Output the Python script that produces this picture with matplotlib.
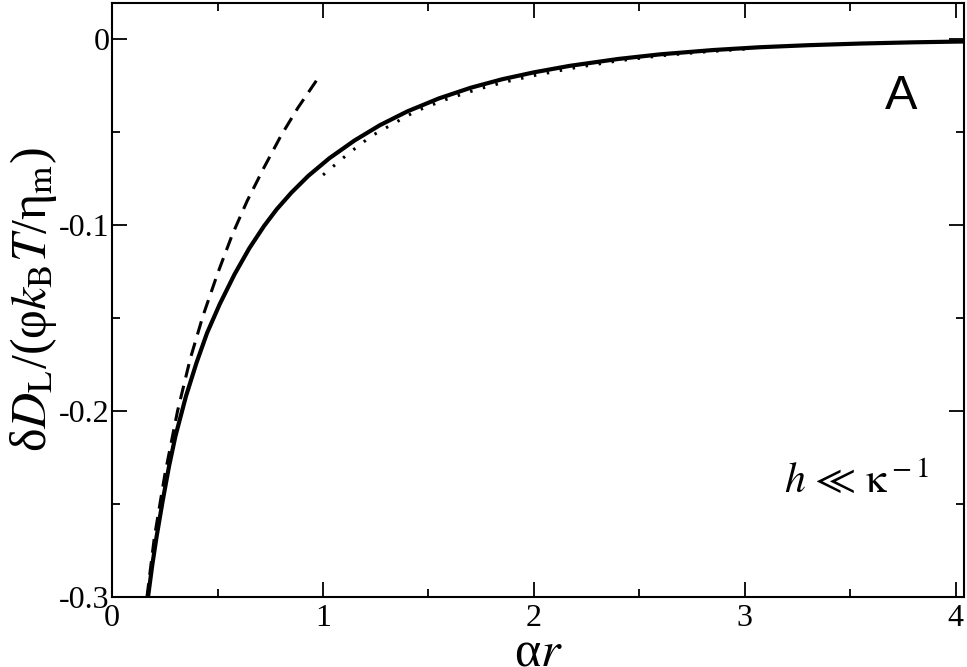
import matplotlib
matplotlib.use('Agg')
import matplotlib.pyplot as plt
from matplotlib.ticker import MultipleLocator

# full result (solid)
solid_x = [0.17, 0.19, 0.21, 0.24, 0.27, 0.30, 0.35, 0.40, 0.45, 0.51, 0.58, 0.65, 0.72,
           0.78, 0.85, 0.93, 1.03, 1.15, 1.27, 1.40, 1.55, 1.70, 1.85, 2.00, 2.17, 2.40,
           2.60, 2.85, 3.07, 3.30, 3.55, 3.80, 4.04]
solid_y = [-0.300, -0.283, -0.268, -0.248, -0.2295, -0.2135, -0.192, -0.174, -0.158,
           -0.1425, -0.1265, -0.1125, -0.1005, -0.0915, -0.0825, -0.0735, -0.0640,
           -0.0544, -0.0462, -0.0388, -0.0318, -0.0261, -0.0215, -0.0178, -0.0143,
           -0.0106, -0.0081, -0.0058, -0.0043, -0.0032, -0.0023, -0.00165, -0.0012]

# small alpha*r asymptote (dashed)
dash_x = [0.165, 0.20, 0.25, 0.31, 0.37, 0.43, 0.50, 0.57, 0.64, 0.72, 0.80, 0.88, 0.97]
dash_y = [-0.300, -0.268, -0.234, -0.200, -0.172, -0.149, -0.126, -0.105, -0.087,
          -0.069, -0.052, -0.037, -0.022]

# large alpha*r asymptote (dotted)
dot_x = [1.00, 1.12, 1.23, 1.34, 1.44, 1.58, 1.73, 1.87, 2.01, 2.20, 2.40, 2.60, 2.80, 3.00]
dot_y = [-0.0730, -0.0615, -0.0520, -0.0450, -0.0387, -0.0325, -0.0270, -0.0228, -0.0193,
         -0.0152, -0.0116, -0.0089, -0.0069, -0.0053]

plt.rcParams['mathtext.fontset'] = 'stix'
plt.rcParams['font.family'] = ['Liberation Serif', 'DejaVu Serif']

fig = plt.figure(figsize=(9.67, 6.67), dpi=100)
ax = fig.add_axes([0.116, 0.105, 0.881, 0.8905])

ax.plot(solid_x, solid_y, color='k', lw=3.0)
ax.plot(dash_x, dash_y, color='k', lw=2.2, dashes=(4.5, 2.8))
ax.plot(dot_x, dot_y, color='k', lw=2.2, linestyle=(0, (0.8, 3.5)))

ax.set_xlim(0, 4.04)
ax.set_ylim(-0.3, 0.0195)
ax.xaxis.set_major_locator(MultipleLocator(1))
ax.xaxis.set_minor_locator(MultipleLocator(0.5))
ax.yaxis.set_minor_locator(MultipleLocator(0.05))
ax.set_yticks([0, -0.1, -0.2, -0.3])
ax.set_yticklabels(['0', '-0.1', '-0.2', '-0.3'])

for s in ax.spines.values():
    s.set_linewidth(1.5)
ax.tick_params(which='both', direction='in', top=True, right=True, width=1.3, labelsize=23)
ax.tick_params(which='major', length=11)
ax.tick_params(which='minor', length=6)
ax.tick_params(axis='y', pad=2)
ax.tick_params(axis='x', pad=5)

ax.set_xlabel(r'α$r$', fontsize=36, labelpad=-2)
ax.set_ylabel(r'δ$D_{\rm L}$/(φ$k_{\rm B}T$/η$_{\rm m}$)', fontsize=36, labelpad=0)

ax.text(3.74, -0.031, 'A', fontsize=35, family='Liberation Sans', ha='center', va='center')
ax.text(3.53, -0.238, r'$h\,\ll\,\mathrm{\kappa}^{\rm -1}$', fontsize=30, ha='center', va='center')

fig.savefig('out.png', dpi=100)
